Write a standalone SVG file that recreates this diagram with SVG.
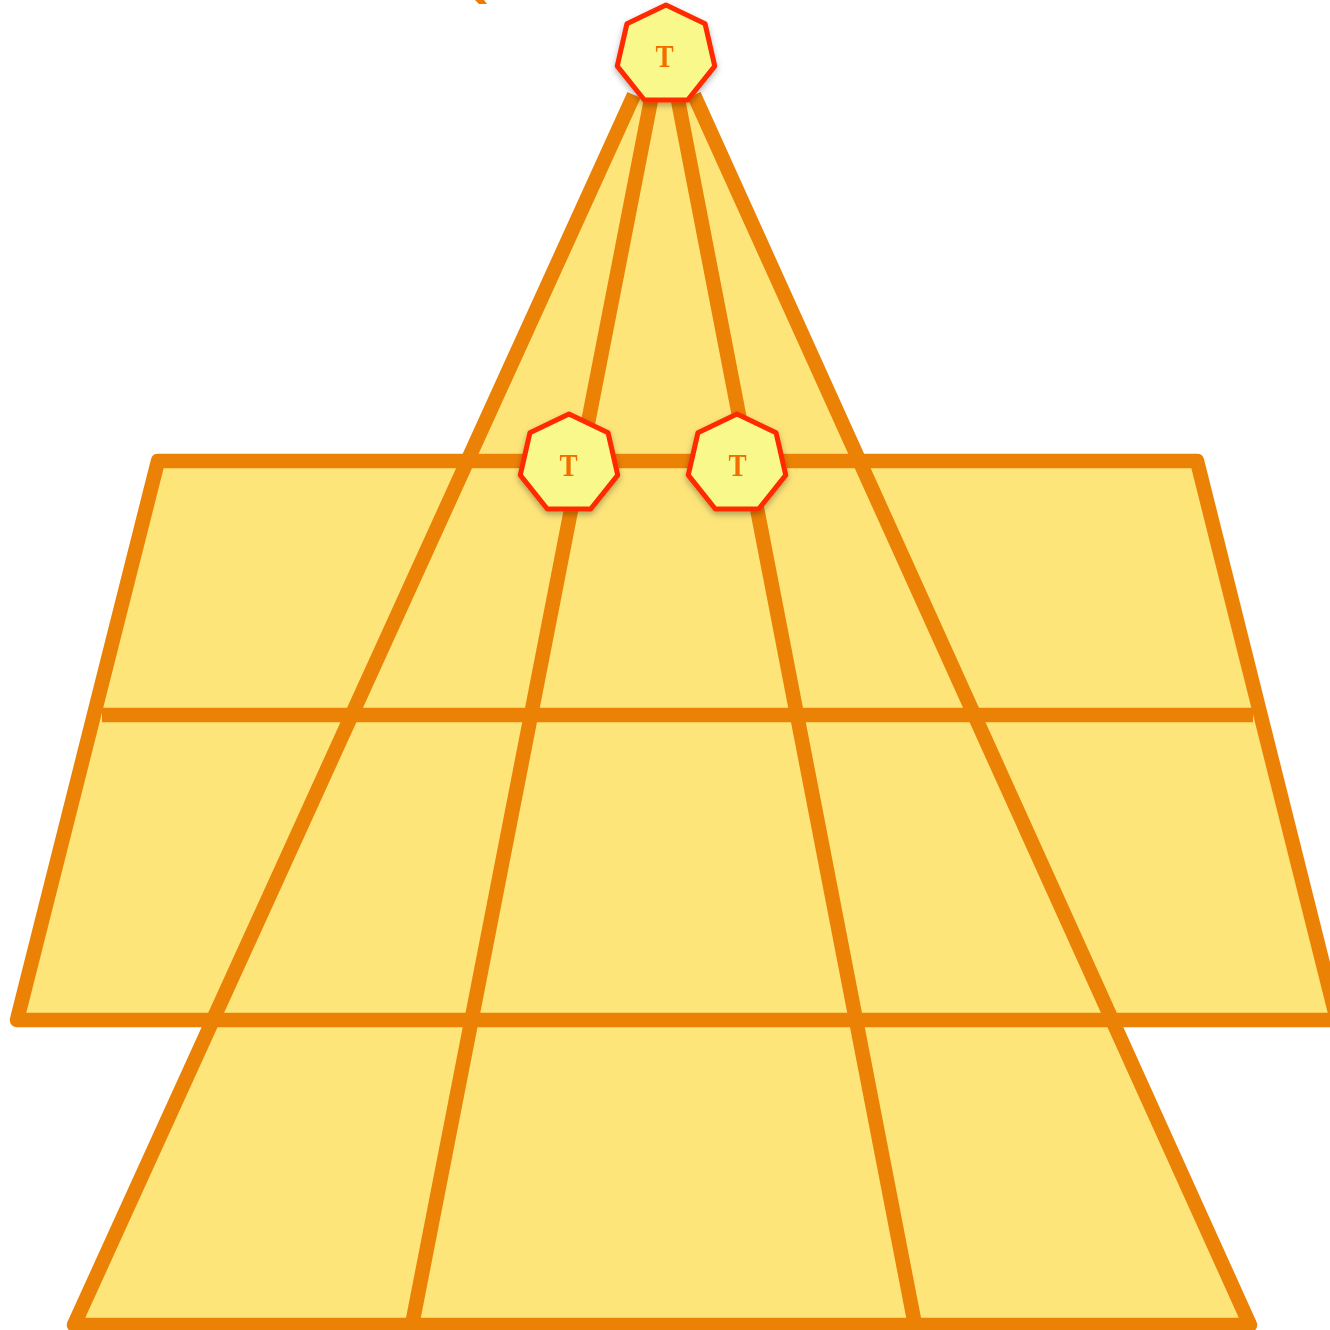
<svg xmlns="http://www.w3.org/2000/svg" xmlns:xlink="http://www.w3.org/1999/xlink" width="1330" height="1330" viewBox="0 0 1330 1330">
<style>
.fill{fill:#FEE57A;stroke:none}
.ln{fill:none;stroke:#EC8205;stroke-width:14.5;stroke-linejoin:round}
.hex{fill:#F9F98B;stroke:#FF2C00;stroke-width:5;stroke-linejoin:round}
.lbl{font-family:"Liberation Serif","DejaVu Serif",serif;font-weight:bold;font-size:32px;fill:#F26E00;text-anchor:middle}
</style>
<defs>
<filter id="sh" x="-30%" y="-30%" width="160%" height="160%">
<feDropShadow dx="0" dy="3" stdDeviation="3" flood-color="#000" flood-opacity="0.3"/>
</filter>
<polygon id="hept" points="0,-50 39.09,-31.17 48.75,11.13 21.69,45.05 -21.69,45.05 -48.75,11.13 -39.09,-31.17"/>
</defs>
<rect width="1330" height="1330" fill="#FFFFFF"/>
<polygon points="475,0 484,0 487,4 479,4" fill="#F07A00"/>
<g id="plane">
<polygon class="fill" points="17,1020 158,461 1197,461 1340,1030 1340,1020 1113,1020 1250,1325 74,1325 212,1020"/>
<polygon class="fill" points="634,95 694,95 860,461 466,461"/>
<path class="ln" d="M1340,1020 L17,1020 L158,461 L1197,461 L1340,1032"/>
<path class="ln" d="M102,715 L1253,715" stroke-linecap="butt"/>
</g>
<g id="connectors">
<path class="ln" d="M634,95 L74,1325 L1250,1325 L694,95"/>
<path class="ln" d="M651,100 L412,1325"/>
<path class="ln" d="M678,100 L915,1325"/>
</g>
<g id="node-top" filter="url(#sh)">
<use xlink:href="#hept" href="#hept" class="hex" transform="translate(666,55)"/>
<text class="lbl" transform="translate(664.5,67) scale(0.85,1)">T</text>
</g>
<g id="node-left" filter="url(#sh)">
<use xlink:href="#hept" href="#hept" class="hex" transform="translate(569,464)"/>
<text class="lbl" transform="translate(568.5,476) scale(0.85,1)">T</text>
</g>
<g id="node-right" filter="url(#sh)">
<use xlink:href="#hept" href="#hept" class="hex" transform="translate(737,464)"/>
<text class="lbl" transform="translate(737.5,476) scale(0.85,1)">T</text>
</g>
</svg>
